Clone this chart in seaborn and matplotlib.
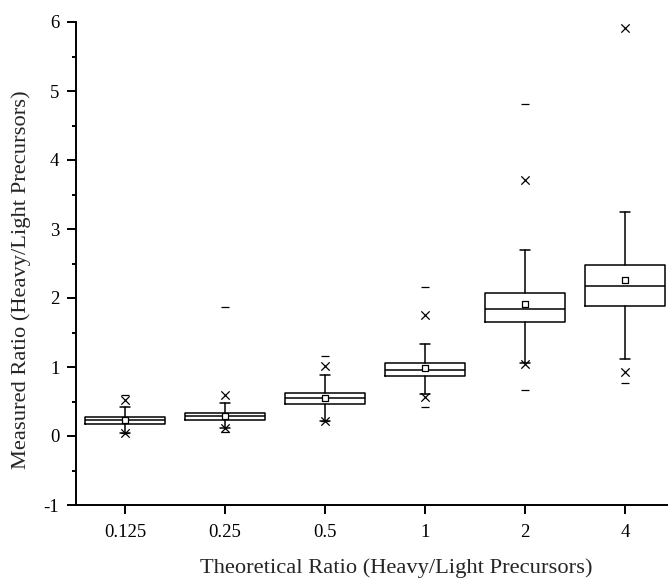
import matplotlib
matplotlib.use("Agg")
import matplotlib.pyplot as plt
import numpy as np
import pandas as pd
import seaborn as sns
from matplotlib.ticker import MultipleLocator

# Box statistics (Origin-style box chart)
categories = ["0.125", "0.25", "0.5", "1", "2", "4"]
q1 = [0.17, 0.232, 0.459, 0.874, 1.648, 1.884]
median = [0.232, 0.285, 0.555, 0.961, 1.845, 2.17]
q3 = [0.271, 0.338, 0.628, 1.058, 2.068, 2.478]
mean = [0.232, 0.29, 0.555, 0.986, 1.909, 2.265]
whisker_lo = [0.045, 0.12, 0.215, 0.613, 1.053, 1.12]
whisker_hi = [0.425, 0.483, 0.88, 1.33, 2.696, 3.25]
pct1 = [0.045, 0.115, 0.22, 0.57, 1.05, 0.923]
pct99 = [0.52, 0.59, 1.01, 1.754, 3.71, 5.913]
data_min = [0.04, 0.065, 0.215, 0.425, 0.662, 0.764]
data_max = [0.60, 1.87, 1.155, 2.16, 4.807, np.nan]

sns.set_theme(style="ticks")
plt.rcParams["font.family"] = ["Liberation Serif", "DejaVu Serif"]

fig = plt.figure(figsize=(6.68, 5.8), dpi=100)
# axes runs past the right edge of the figure, like the reference crop
ax = fig.add_axes([76 / 668, 1 - 505 / 580, 640 / 668, (505 - 22) / 580])

pos = np.arange(len(categories))
stats = []
for i, c in enumerate(categories):
    stats.append(dict(label=c, q1=q1[i], med=median[i], q3=q3[i],
                      whislo=whisker_lo[i], whishi=whisker_hi[i], fliers=[]))

line = dict(color="black", linewidth=1.1)
ax.bxp(stats, positions=pos, widths=0.8, capwidths=0.1, showfliers=False,
       boxprops=line, whiskerprops=line, capprops=line,
       medianprops=line, manage_ticks=False)

df = pd.DataFrame({"pos": pos, "mean": mean, "p1": pct1, "p99": pct99,
                   "lo": data_min, "hi": data_max})

sns.scatterplot(data=df, x="pos", y="mean", marker="s", s=22,
                facecolor="white", edgecolor="black", linewidth=0.9, ax=ax, zorder=5)
for col in ["p1", "p99"]:
    sns.scatterplot(data=df, x="pos", y=col, marker="x", s=36,
                    color="black", linewidth=0.9, ax=ax, zorder=5)
for col in ["lo", "hi"]:
    sns.scatterplot(data=df, x="pos", y=col, marker="_", s=28,
                    color="black", linewidth=0.9, ax=ax, zorder=5)

ax.set_xlim(-0.49, 5.91)
ax.set_ylim(-1, 6)
ax.set_xticks(pos)
ax.set_xticklabels(categories)
ax.yaxis.set_major_locator(MultipleLocator(1))
ax.yaxis.set_minor_locator(MultipleLocator(0.5))
ax.set_yticklabels([f"{v:g}" for v in ax.get_yticks()])

for s in ["top", "right"]:
    ax.spines[s].set_visible(False)
for s in ["left", "bottom"]:
    ax.spines[s].set_linewidth(1.4)
    ax.spines[s].set_color("black")

ax.tick_params(axis="both", which="major", direction="out", length=6.5, width=1.4,
               colors="black", labelsize=13.5)
ax.tick_params(axis="x", which="major", pad=7.5)
ax.tick_params(axis="y", which="major", pad=5.5)
ax.tick_params(axis="y", which="minor", direction="out", length=3.2, width=1.4, colors="black")

ax.set_xlabel("Theoretical Ratio (Heavy/Light Precursors)", fontsize=16.2)
ax.set_ylabel("Measured Ratio (Heavy/Light Precursors)", fontsize=16.2)
ax.xaxis.set_label_coords(0.5, -0.1097)
ax.yaxis.set_label_coords(-0.0703, 0.466)

fig.savefig("out.png", dpi=100)
